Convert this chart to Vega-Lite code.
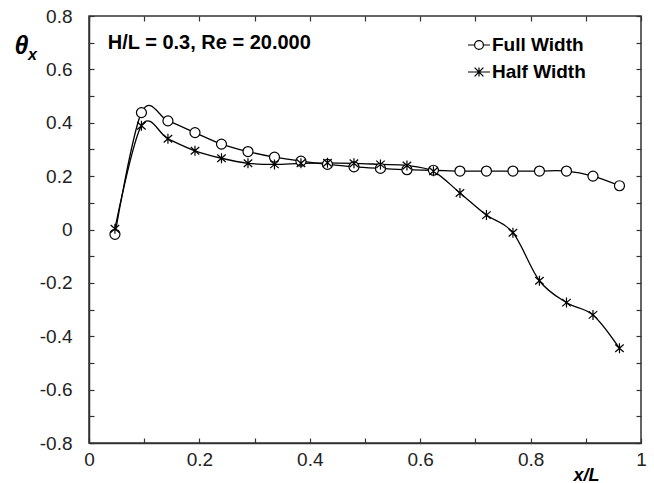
{
  "$schema": "https://vega.github.io/schema/vega-lite/v6.json",
  "width": 552,
  "height": 427,
  "autosize": {"type": "none"},
  "padding": {"left": 89, "top": 16, "right": 13, "bottom": 40},
  "background": "white",
  "config": {
    "font": "Liberation Sans",
    "view": {"stroke": "#333", "strokeWidth": 1.5},
    "axis": {
      "grid": false,
      "domainColor": "#333",
      "domainWidth": 1.5,
      "tickColor": "#333",
      "tickWidth": 1.2,
      "tickSize": -5,
      "labelFont": "Liberation Sans",
      "labelFontSize": 19,
      "labelColor": "#222",
      "labelFlush": false,
      "labelOverlap": false
    }
  },
  "data": {
    "values": [
      {"x": 0.047, "y": -0.018, "series": "Full Width"},
      {"x": 0.095, "y": 0.438, "series": "Full Width"},
      {"x": 0.143, "y": 0.407, "series": "Full Width"},
      {"x": 0.192, "y": 0.363, "series": "Full Width"},
      {"x": 0.240, "y": 0.320, "series": "Full Width"},
      {"x": 0.288, "y": 0.292, "series": "Full Width"},
      {"x": 0.336, "y": 0.271, "series": "Full Width"},
      {"x": 0.384, "y": 0.256, "series": "Full Width"},
      {"x": 0.432, "y": 0.244, "series": "Full Width"},
      {"x": 0.480, "y": 0.235, "series": "Full Width"},
      {"x": 0.528, "y": 0.229, "series": "Full Width"},
      {"x": 0.576, "y": 0.224, "series": "Full Width"},
      {"x": 0.624, "y": 0.222, "series": "Full Width"},
      {"x": 0.672, "y": 0.219, "series": "Full Width"},
      {"x": 0.720, "y": 0.219, "series": "Full Width"},
      {"x": 0.768, "y": 0.219, "series": "Full Width"},
      {"x": 0.816, "y": 0.219, "series": "Full Width"},
      {"x": 0.865, "y": 0.219, "series": "Full Width"},
      {"x": 0.913, "y": 0.200, "series": "Full Width"},
      {"x": 0.961, "y": 0.164, "series": "Full Width"},
      {"x": 0.047, "y": 0.003, "series": "Half Width"},
      {"x": 0.095, "y": 0.389, "series": "Half Width"},
      {"x": 0.143, "y": 0.340, "series": "Half Width"},
      {"x": 0.192, "y": 0.295, "series": "Half Width"},
      {"x": 0.240, "y": 0.267, "series": "Half Width"},
      {"x": 0.288, "y": 0.248, "series": "Half Width"},
      {"x": 0.336, "y": 0.244, "series": "Half Width"},
      {"x": 0.384, "y": 0.248, "series": "Half Width"},
      {"x": 0.432, "y": 0.250, "series": "Half Width"},
      {"x": 0.480, "y": 0.248, "series": "Half Width"},
      {"x": 0.528, "y": 0.244, "series": "Half Width"},
      {"x": 0.576, "y": 0.240, "series": "Half Width"},
      {"x": 0.624, "y": 0.218, "series": "Half Width"},
      {"x": 0.672, "y": 0.137, "series": "Half Width"},
      {"x": 0.720, "y": 0.054, "series": "Half Width"},
      {"x": 0.768, "y": -0.012, "series": "Half Width"},
      {"x": 0.816, "y": -0.192, "series": "Half Width"},
      {"x": 0.865, "y": -0.274, "series": "Half Width"},
      {"x": 0.913, "y": -0.320, "series": "Half Width"},
      {"x": 0.961, "y": -0.445, "series": "Half Width"}
    ]
  },
  "resolve": {
    "axis": {"x": "independent", "y": "independent"},
    "scale": {"shape": "independent"}
  },
  "layer": [
    {
      "mark": {"type": "line", "interpolate": "cardinal", "color": "black", "strokeWidth": 1.3},
      "encoding": {
        "x": {
          "field": "x", "type": "quantitative",
          "scale": {"domain": [0, 1]},
          "axis": {
            "orient": "bottom",
            "values": [0, 0.1, 0.2, 0.3, 0.4, 0.5, 0.6, 0.7, 0.8, 0.9, 1],
            "labelExpr": "round(datum.value*10) % 2 == 1 ? '' : format(datum.value, '~g')",
            "labelPadding": 12,
            "title": "x/L",
            "titleFont": "Liberation Sans",
            "titleFontSize": 18,
            "titleFontWeight": "bold",
            "titleFontStyle": "italic",
            "titleColor": "black",
            "titleAlign": "left",
            "titleBaseline": "alphabetic",
            "titleX": 484,
            "titleY": 37
          }
        },
        "y": {
          "field": "y", "type": "quantitative",
          "scale": {"domain": [-0.8, 0.8]},
          "axis": {
            "orient": "left",
            "values": [-0.8, -0.7, -0.6, -0.5, -0.4, -0.3, -0.2, -0.1, 0, 0.1, 0.2, 0.3, 0.4, 0.5, 0.6, 0.7, 0.8],
            "labelExpr": "abs(round(datum.value*10)) % 2 == 1 ? '' : (datum.value < -0.001 ? '-' : '') + format(abs(datum.value), '~g')",
            "labelPadding": 22,
            "title": "θ",
            "titleFont": "Liberation Sans",
            "titleFontSize": 25,
            "titleFontWeight": "bold",
            "titleFontStyle": "italic",
            "titleColor": "black",
            "titleAngle": 0,
            "titleAlign": "left",
            "titleBaseline": "alphabetic",
            "titleX": -75,
            "titleY": 37
          }
        },
        "detail": {"field": "series"}
      }
    },
    {
      "mark": {"type": "point", "fill": "white", "stroke": "black", "strokeWidth": 1.2, "opacity": 1, "size": 100},
      "encoding": {
        "x": {"field": "x", "type": "quantitative", "scale": {"domain": [0, 1]}, "axis": null},
        "y": {"field": "y", "type": "quantitative", "scale": {"domain": [-0.8, 0.8]}, "axis": null},
        "shape": {
          "field": "series", "type": "nominal",
          "scale": {"domain": ["Full Width", "Half Width"], "range": ["circle", "M0,-1L0,1M-0.85,-0.75L0.85,0.75M-0.85,0.75L0.85,-0.75"]},
          "legend": null
        }
      }
    },
    {
      "mark": {"type": "point", "opacity": 0},
      "encoding": {
        "x": {"field": "x", "type": "quantitative", "scale": {"domain": [0, 1]}, "axis": null},
        "y": {"field": "y", "type": "quantitative", "scale": {"domain": [-0.8, 0.8]}, "axis": null},
        "shape": {
          "field": "series", "type": "nominal",
          "scale": {"domain": ["Full Width", "Half Width"], "range": ["M-1,0L-0.4,0M0.4,0L1,0M-0.4,0A0.4,0.4 0 1,0 0.4,0A0.4,0.4 0 1,0 -0.4,0", "M-1,0L1,0M0,-0.42L0,0.42M-0.4,-0.4L0.4,0.4M-0.4,0.4L0.4,-0.4"]},
          "legend": {
            "orient": "none",
            "legendX": 378,
            "legendY": 17,
            "title": null,
            "padding": 0,
            "symbolSize": 484,
            "symbolStrokeColor": "black",
            "symbolFillColor": "white",
            "symbolStrokeWidth": 1.2,
            "symbolOpacity": 1,
            "labelFont": "Liberation Sans",
            "labelFontSize": 19,
            "labelFontWeight": "bold",
            "labelColor": "black",
            "labelOffset": 1,
            "rowPadding": 5
          }
        }
      }
    },
    {
      "data": {"values": [{"label": "H/L = 0.3, Re = 20.000", "px": 0.034, "py": 0.675}]},
      "mark": {"type": "text", "font": "Liberation Sans", "fontSize": 20, "fontWeight": "bold", "align": "left", "baseline": "alphabetic", "color": "black"},
      "encoding": {
        "x": {
          "field": "px", "type": "quantitative", "scale": {"domain": [0, 1]},
          "axis": {"orient": "top", "values": [0, 0.1, 0.2, 0.3, 0.4, 0.5, 0.6, 0.7, 0.8, 0.9, 1], "labels": false, "title": null, "domain": false}
        },
        "y": {
          "field": "py", "type": "quantitative", "scale": {"domain": [-0.8, 0.8]},
          "axis": {"orient": "right", "values": [-0.8, -0.7, -0.6, -0.5, -0.4, -0.3, -0.2, -0.1, 0, 0.1, 0.2, 0.3, 0.4, 0.5, 0.6, 0.7, 0.8], "labels": false, "title": null, "domain": false}
        },
        "text": {"field": "label"}
      }
    },
    {
      "data": {"values": [{"label": "x", "px": -0.1105, "py": 0.635}]},
      "mark": {"type": "text", "font": "Liberation Sans", "fontSize": 16, "fontWeight": "bold", "fontStyle": "italic", "align": "left", "baseline": "alphabetic", "color": "black"},
      "encoding": {
        "x": {"field": "px", "type": "quantitative", "scale": {"domain": [0, 1]}, "axis": null},
        "y": {"field": "py", "type": "quantitative", "scale": {"domain": [-0.8, 0.8]}, "axis": null},
        "text": {"field": "label"}
      }
    }
  ]
}
